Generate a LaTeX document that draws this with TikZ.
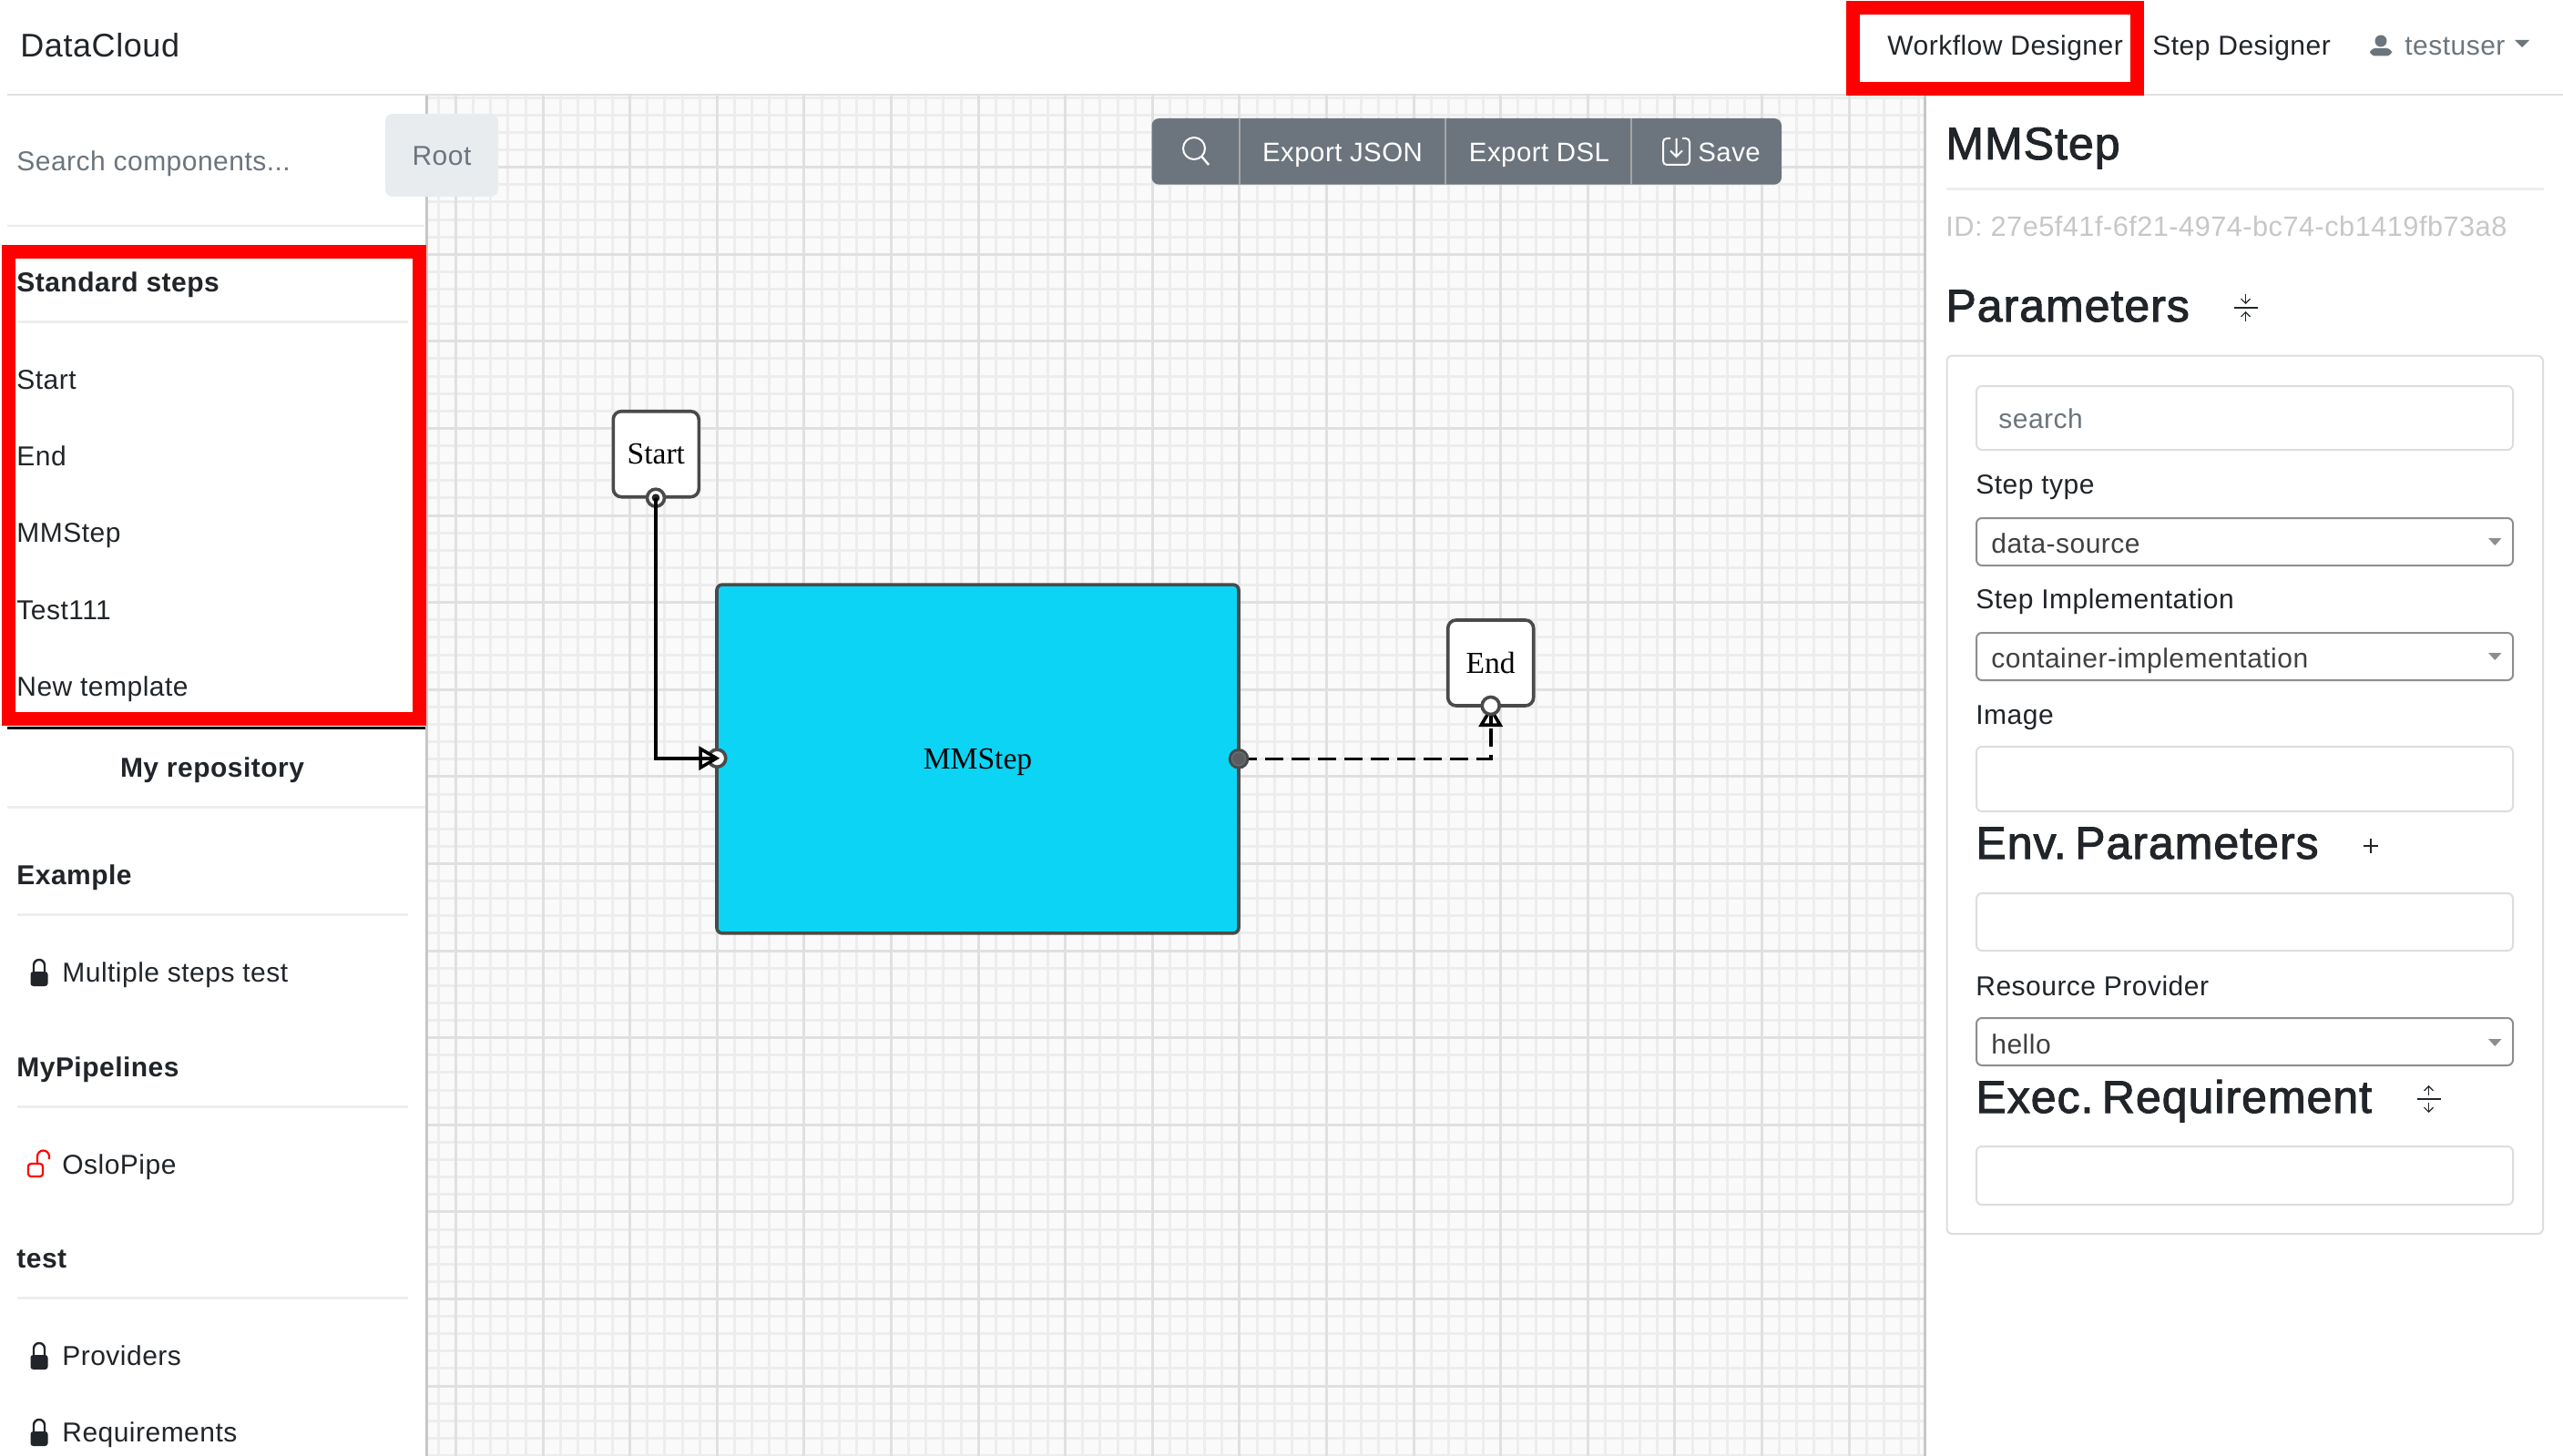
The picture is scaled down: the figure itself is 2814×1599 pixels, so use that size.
\documentclass[tikz,border=0pt]{standalone}
\usepackage{fontspec}
\setmainfont[LetterSpace=1.6]{Liberation Sans}
\newfontfamily\boxfont{Liberation Serif}
\newfontfamily\titlefont[FakeBold=2,LetterSpace=2,WordSpace=0.3]{Liberation Sans}
\usetikzlibrary{arrows.meta}
\definecolor{inkdark}{HTML}{212529}
\definecolor{inkgrey}{HTML}{6C757D}
\definecolor{rulegrey}{HTML}{EEEEEE}
\definecolor{fieldgrey}{HTML}{DDDDDD}
\definecolor{selectgrey}{HTML}{8E8E8E}
\definecolor{buttongrey}{HTML}{E9ECEF}
\definecolor{stepcyan}{HTML}{0BD4F5}
\definecolor{boxedge}{HTML}{4A4A4A}
\pgfdeclarelayer{gridlayer}
\pgfdeclarelayer{wirelayer}
\pgfsetlayers{gridlayer,wirelayer,main}
\def \gridMinor {19.12}
\def \gridMajor {95.6}
\tikzset{
  label/.style={anchor=base west, inner sep=0pt, text=inkdark, font=\fontsize{15pt}{17pt}\selectfont},
  greylabel/.style={label, text=inkgrey},
  heading/.style={label, font=\fontsize{15pt}{17pt}\selectfont\bfseries},
  title/.style={label, font=\titlefont\fontsize{25pt}{28pt}\selectfont},
  barlabel/.style={label, text=white, font=\fontsize{14.7pt}{17pt}\selectfont},
  sectionrule/.style={rulegrey, line width=1.5pt},
  fieldbox/.style={fieldgrey, line width=1pt, rounded corners=3pt},
  selectbox/.style={selectgrey, line width=1pt, rounded corners=3pt},
  caret/.style={fill=selectgrey, draw=none},
  redframe/.style={draw=red, line width=7.5pt},
  stepbox/.style={draw=boxedge, line width=1.8pt, rounded corners=4.5pt, fill=white, inner sep=0pt, text depth=0pt, text=black, font=\boxfont\fontsize{16.8pt}{18pt}\selectfont},
  portin/.style={circle, draw=boxedge, line width=1.8pt, fill=white, minimum size=9.5pt, inner sep=0pt},
  portout/.style={circle, draw=boxedge, line width=1.8pt, fill=boxedge!90!white, minimum size=9.5pt, inner sep=0pt},
  wire/.style={black, line width=1.8pt},
  opentip/.style={-{Triangle[fill=white, length=11.5pt, width=13pt, line width=1.8pt]}},
  lockpic/.pic={
    \fill[inkdark, rounded corners=1.5pt] (-9.5,-1) rectangle (9.5,15);
    \draw[inkdark, line width=1.2pt] (-6,0) -- (-6,-8) arc (180:360:6) -- (6,0);
  }
}
\begin{document}
\begin{tikzpicture}[x=0.5pt, y=-0.5pt]
  \useasboundingbox (0,0) rectangle (2814,1599);
  \begin{pgfonlayer}{gridlayer}
    \fill[white] (0,0) rectangle (2814,1599);
    \fill[black!2] (469,105) rectangle (2113,1599);
    \begin{scope}
      \clip (469,105) rectangle (2113,1599);
      \foreach \i in {0,...,87} {
        \draw[black!7, line width=1.5pt] ({462.3+\gridMinor*\i},105) -- ({462.3+\gridMinor*\i},1599);
      }
      \foreach \i in {0,...,78} {
        \draw[black!7, line width=1.5pt] (469,{107.2+\gridMinor*\i}) -- (2113,{107.2+\gridMinor*\i});
      }
      \foreach \i in {0,...,17} {
        \draw[black!12, line width=1.5pt] ({500.5+\gridMajor*\i},105) -- ({500.5+\gridMajor*\i},1599);
      }
      \foreach \i in {0,...,15} {
        \draw[black!12, line width=1.5pt] (469,{183.7+\gridMajor*\i}) -- (2113,{183.7+\gridMajor*\i});
      }
    \end{scope}
    \draw[black!22, line width=1.2pt] (468.5,105) -- (468.5,1599);
    \draw[black!22, line width=1.2pt] (2113.5,105) -- (2113.5,1599);
  \end{pgfonlayer}

  \draw[black!12, line width=1pt] (8,104.5) -- (2814,104.5);
  \node[label, font=\fontsize{18pt}{20pt}\selectfont] (brand) at (22,63) {DataCloud};
  \node[label] (navworkflow) at (2072,61) {Workflow Designer};
  \node[label] (navstep) at (2363,61) {Step Designer};
  \node[greylabel] (navuser) at (2640,61) {testuser};
  \fill[inkgrey] (2614,45) circle (6.5);
  \fill[inkgrey, rounded corners=3pt] (2602,61.5) -- (2602,53) -- (2626,53) -- (2626,61.5) -- cycle;
  \fill[inkgrey] (2761,44) -- (2777,44) -- (2769,52) -- cycle;
  \draw[redframe] (2034,8.5) rectangle (2346,97.5);

  \node[greylabel] (searchhint) at (18,188) {Search components...};
  \fill[buttongrey, rounded corners=4pt] (423,125) rectangle (547,216);
  \node[greylabel, anchor=base] (rootbutton) at (485,182) {Root};
  \draw[black!8, line width=1pt] (8,248) -- (466,248);

  \draw[black, line width=1.5pt] (8,799) -- (467,799);
  \draw[redframe] (9,276.5) rectangle (460,789);
  \node[heading] (standardsteps) at (18,321) {Standard steps};
  \draw[sectionrule] (19,354) -- (448,354);
  \node[label] (itemstart) at (18,427.5) {Start};
  \node[label] (itemend) at (18,511.5) {End};
  \node[label] (itemmm) at (18,595.5) {MMStep};
  \node[label] (itemtest) at (18,680) {Test111};
  \node[label] (itemnew) at (18,764) {New template};

  \node[heading, anchor=base] (myrepo) at (233,853.5) {My repository};
  \draw[sectionrule] (8,886.6) -- (467,886.6);
  \node[heading] (example) at (18,971) {Example};
  \draw[sectionrule] (19,1004.7) -- (448,1004.7);
  \pic at (43,1068) {lockpic};
  \node[label] (multiple) at (68,1078.5) {Multiple steps test};
  \node[heading] (mypipelines) at (18,1182) {MyPipelines};
  \draw[sectionrule] (19,1215) -- (448,1215);
  \draw[red, line width=1.1pt, rounded corners=1.5pt] (31,1278) rectangle (47,1292);
  \draw[red, line width=1.1pt] (41,1278) -- (41,1270) arc (180:360:6.5) -- (54,1273);
  \node[label] (oslopipe) at (68,1289) {OsloPipe};
  \node[heading] (testhead) at (18,1392) {test};
  \draw[sectionrule] (19,1425.8) -- (448,1425.8);
  \pic at (43,1489) {lockpic};
  \node[label] (providers) at (68,1499.5) {Providers};
  \pic at (43,1573) {lockpic};
  \node[label] (requirements) at (68,1583) {Requirements};

  \fill[inkgrey, rounded corners=4pt] (1264.5,130) rectangle (1956,202.7);
  \draw[black!35, line width=1pt] (1361,130) -- (1361,202.7);
  \draw[black!35, line width=1pt] (1587,130) -- (1587,202.7);
  \draw[black!35, line width=1pt] (1791,130) -- (1791,202.7);
  \draw[white, line width=1pt] (1311,163) circle (12);
  \draw[white, line width=1.2pt] (1319.5,172) -- (1327,181);
  \node[barlabel, anchor=base] (exportjson) at (1474,178) {Export JSON};
  \node[barlabel, anchor=base] (exportdsl) at (1690,178) {Export DSL};
  \draw[white, line width=1pt, rounded corners=2pt] (1834,152) -- (1826,152) -- (1826,181) -- (1855,181) -- (1855,152) -- (1847,152);
  \draw[white, line width=1pt] (1840.5,152) -- (1840.5,172) (1834,165.5) -- (1840.5,172) -- (1847,165.5);
  \node[barlabel] (savebutton) at (1864,178) {Save};

  \node[stepbox, minimum width=47pt, minimum height=47pt] (startbox) at (720.3,498.7) {Start};
  \node[stepbox, fill=stepcyan, minimum width=286.5pt, minimum height=191.4pt, rounded corners=3pt] (mmbox) at (1073.5,833.5) {MMStep};
  \node[stepbox, minimum width=47pt, minimum height=47pt] (endbox) at (1636.7,728) {End};
  \node[portin] (startout) at (720,546.7) {};
  \node[portin] (mmin) at (787.3,832.7) {};
  \node[portout] (mmout) at (1360,833.3) {};
  \draw[black!40!cyan!50!boxedge, line width=0.6pt] (mmout.center) circle (7.5);
  \node[portin] (endin) at (1636.7,775) {};

  \fill[inkdark] (startout.center) circle (4.4);
  \draw[wire, opentip, shorten >=-1.5pt] (startout.center) |- (mmin.center);
  \draw[wire] (mmin.center) -- ++(-23,0);
  \begin{pgfonlayer}{wirelayer}
    \draw[wire, opentip, dash pattern=on 10pt off 4.5pt] (mmout.center) -| (endin.center);
    \draw[wire] (endin.center) -- ++(0,22);
  \end{pgfonlayer}

  \node[title] (steptitle) at (2136,175) {MMStep};
  \draw[sectionrule] (2137,208) -- (2793,208);
  \node[label, text=black!22, font=\fontsize{15.35pt}{17pt}\selectfont] (stepid) at (2136,260) {ID: 27e5f41f-6f21-4974-bc74-cb1419fb73a8};
  \node[title] (parameters) at (2136,353) {Parameters};
  \draw[inkdark, line width=0.6pt] (2452.5,338) -- (2478.5,338);
  \draw[inkdark, line width=0.6pt, -{Straight Barb[length=2.5pt, width=5pt]}] (2465.5,323) -- (2465.5,334);
  \draw[inkdark, line width=0.6pt, -{Straight Barb[length=2.5pt, width=5pt]}] (2465.5,353) -- (2465.5,342);
  \draw[fieldbox] (2137.5,390.7) rectangle (2792,1355);
  \draw[fieldbox] (2170,424) rectangle (2759,494);
  \node[greylabel] (searchfield) at (2194,470) {search};
  \node[label] (steptype) at (2169,542.5) {Step type};
  \draw[selectbox] (2170,569) rectangle (2759,621);
  \node[label, text=black!75] (stepvalue) at (2186,607) {data-source};
  \fill[caret] (2732,591) -- (2746.5,591) -- (2739.2,599) -- cycle;
  \node[label] (stepimpl) at (2169,668.5) {Step Implementation};
  \draw[selectbox] (2170,695) rectangle (2759,747);
  \node[label, text=black!75] (implvalue) at (2186,733) {container-implementation};
  \fill[caret] (2732,717) -- (2746.5,717) -- (2739.2,725) -- cycle;
  \node[label] (imagelabel) at (2169,795) {Image};
  \draw[fieldbox] (2170,820) rectangle (2759,891);
  \node[title] (envparams) at (2169,943) {Env. Parameters};
  \draw[inkdark, line width=0.6pt] (2595,929) -- (2611,929) (2603,921) -- (2603,937);
  \draw[fieldbox] (2170,981) rectangle (2759,1044);
  \node[label] (resource) at (2169,1093) {Resource Provider};
  \draw[selectbox] (2170,1118) rectangle (2759,1170);
  \node[label, text=black!75] (hellovalue) at (2186,1157) {hello};
  \fill[caret] (2732,1141) -- (2746.5,1141) -- (2739.2,1149) -- cycle;
  \node[title] (execreq) at (2169,1222) {Exec. Requirement};
  \draw[inkdark, line width=0.6pt] (2653.5,1207) -- (2679.5,1207);
  \draw[inkdark, line width=0.6pt, -{Straight Barb[length=2.5pt, width=5pt]}] (2666.5,1203) -- (2666.5,1192);
  \draw[inkdark, line width=0.6pt, -{Straight Barb[length=2.5pt, width=5pt]}] (2666.5,1211) -- (2666.5,1222);
  \draw[fieldbox] (2170,1259) rectangle (2759,1323);
\end{tikzpicture}
\end{document}
